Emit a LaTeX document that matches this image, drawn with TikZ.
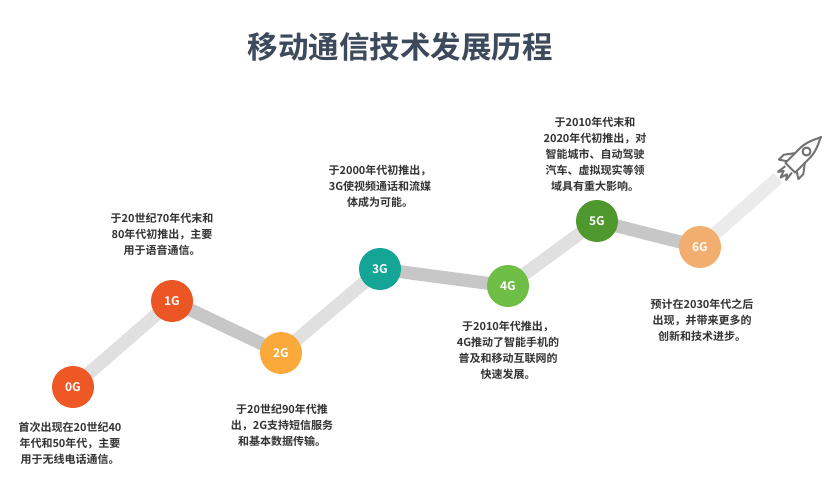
\documentclass[tikz,border=0pt]{standalone}
\usepackage{fontspec}
\setmainfont{Noto Sans CJK SC}[BoldFont={* Bold}]
\newfontfamily\cjkb{Noto Sans CJK SC Bold}
\begin{document}
\begin{tikzpicture}[x=1pt,y=-1pt,
  dot/.style={circle,minimum size=42pt,inner sep=0pt,text=white,font=\cjkb\fontsize{12}{12}\selectfont},
  desc/.style={align=center,text=black!80,font=\cjkb\fontsize{11}{16}\selectfont},
  seglight/.style={line width=13pt,color=black!12},
  segdark/.style={line width=13pt,color=black!22}]
\useasboundingbox (0,0) rectangle (832,500);
\fill[white] (0,0) rectangle (832,500);
\node[font=\cjkb\fontsize{30.5}{30}\selectfont,text={rgb,255:red,61;green,74;blue,92}] (title) at (400,47) {移动通信技术发展历程};
\coordinate (r) at (778,178);
\node[dot] (g0) at (73,387) {};
\node[dot] (g1) at (172,301) {};
\node[dot] (g2) at (281,353) {};
\node[dot] (g3) at (380,269) {};
\node[dot] (g4) at (508,286) {};
\node[dot] (g5) at (597,221) {};
\node[dot] (g6) at (700,247) {};
\draw[seglight] (g0.center) -- (g1.center);
\draw[segdark] (g1.center) -- (g2.center);
\draw[seglight] (g2.center) -- (g3.center);
\draw[segdark] (g3.center) -- (g4.center);
\draw[seglight] (g4.center) -- (g5.center);
\draw[segdark] (g5.center) -- (g6.center);
\draw[line width=13pt,color=black!8] (g6.center) -- (r);
\node[dot,fill={rgb,255:red,238;green,88;blue,36}] at (g0) {0G};
\node[dot,fill={rgb,255:red,236;green,86;blue,36}] at (g1) {1G};
\node[dot,fill={rgb,255:red,249;green,170;blue,58}] at (g2) {2G};
\node[dot,fill={rgb,255:red,20;green,165;blue,150}] at (g3) {3G};
\node[dot,fill={rgb,255:red,110;green,190;blue,70}] at (g4) {4G};
\node[dot,fill={rgb,255:red,78;green,152;blue,46}] at (g5) {5G};
\node[dot,fill={rgb,255:red,242;green,174;blue,110}] at (g6) {6G};
% rocket
\begin{scope}[shift={(800,158)},rotate=-45,scale=1.15,line width=2pt,draw=black!55,line join=round]
\draw (-6,12) -- (-6,-6) .. controls (-6,-16) and (0,-24) .. (0,-26) .. controls (0,-24) and (6,-16) .. (6,-6) -- (6,12) -- cycle;
\draw (0,-8) circle (3.5);
\draw (-6,0) -- (-12,8) -- (-12,14) -- (-6,10);
\draw (6,0) -- (12,8) -- (12,14) -- (6,10);
\draw (-4,14) -- (-5,22) -- (-2,18) -- (0,24) -- (2,18) -- (5,22) -- (4,14);
\end{scope}
\node[desc] (t0) at (70,443) {首次出现在20世纪40\\年代和50年代，主要\\用于无线电话通信。};
\node[desc] (t1) at (162,234) {于20世纪70年代末和\\80年代初推出，主要\\用于语音通信。};
\node[desc] (t2) at (282,425) {于20世纪90年代推\\出，2G支持短信服务\\和基本数据传输。};
\node[desc] (t3) at (380,186) {于2000年代初推出，\\3G使视频通话和流媒\\体成为可能。};
\node[desc] (t4) at (508,350) {于2010年代推出，\\4G推动了智能手机的\\普及和移动互联网的\\快速发展。};
\node[desc] (t5) at (595,154) {于2010年代末和\\2020年代初推出，对\\智能城市、自动驾驶\\汽车、虚拟现实等领\\域具有重大影响。};
\node[desc] (t6) at (702,320) {预计在2030年代之后\\出现，并带来更多的\\创新和技术进步。};
\end{tikzpicture}
\end{document}
